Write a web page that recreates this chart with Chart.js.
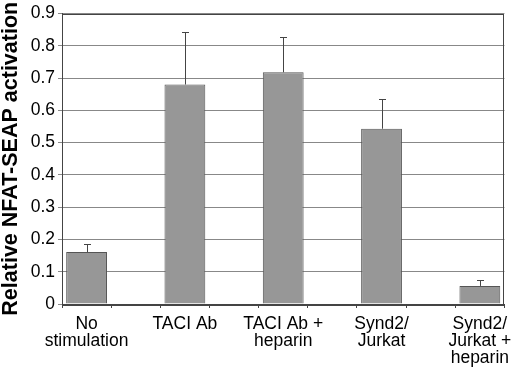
<!DOCTYPE html>
<html>
<head>
<meta charset="utf-8">
<script src="https://cdn.jsdelivr.net/npm/chart.js@4/dist/chart.umd.min.js"></script>
<style>
  body { margin: 0; background: #fff; }
  #wrap { width: 520px; height: 369px; }
</style>
</head>
<body>
<div id="wrap"><canvas id="chart" width="520" height="369"></canvas></div>
<script>
// values
const categories = [
  ['No', 'stimulation'],
  ['TACI Ab'],
  ['TACI Ab +', 'heparin'],
  ['Synd2/', 'Jurkat'],
  ['Synd2/', 'Jurkat +', 'heparin']
];
const means = [0.161, 0.680, 0.718, 0.543, 0.056];
const errors = [0.024, 0.162, 0.110, 0.093, 0.017];
const yTickLabels = ['0', '0.1', '0.2', '0.3', '0.4', '0.5', '0.6', '0.7', '0.8', '0.9'];
const yTitle = 'Relative NFAT-SEAP activation';

// the original axis has an empty slot between each pair of bars
const slotLabels = [];
const slotMeans = [];
const slotErrors = [];
categories.forEach((c, i) => {
  if (i > 0) { slotLabels.push(''); slotMeans.push(null); slotErrors.push(null); }
  slotLabels.push(c);
  slotMeans.push(means[i]);
  slotErrors.push(errors[i]);
});

const FONT = 'Liberation Sans, Arial, Helvetica, sans-serif';

const errorBars = {
  id: 'errorBars',
  afterDatasetsDraw(chart) {
    const { ctx, scales: { x, y } } = chart;
    ctx.save();
    ctx.strokeStyle = '#444';
    ctx.lineWidth = 1;
    slotMeans.forEach((m, i) => {
      if (m === null) return;
      const px = Math.round(x.getPixelForValue(i)) + 0.5;
      const y0 = y.getPixelForValue(m);
      const y1 = Math.round(y.getPixelForValue(m + slotErrors[i])) + 0.5;
      ctx.beginPath();
      ctx.moveTo(px, y0);
      ctx.lineTo(px, y1);
      ctx.moveTo(px - 3.5, y1);
      ctx.lineTo(px + 3.5, y1);
      ctx.stroke();
    });
    ctx.restore();
  }
};

const frame = {
  id: 'frame',
  afterDraw(chart) {
    const { ctx, chartArea: a } = chart;
    ctx.save();
    ctx.strokeStyle = '#444';
    ctx.lineWidth = 1;
    ctx.strokeRect(Math.round(a.left) + 0.5, Math.round(a.top) + 0.5,
      Math.round(a.right - a.left) - 1, Math.round(a.bottom - a.top));
    ctx.restore();
  }
};

new Chart(document.getElementById('chart').getContext('2d'), {
  type: 'bar',
  data: {
    labels: slotLabels,
    datasets: [{
      data: slotMeans,
      backgroundColor: '#979797',
      borderColor: '#555',
      borderWidth: 1,
      barPercentage: 0.83,
      categoryPercentage: 1
    }]
  },
  options: {
    responsive: false,
    animation: false,
    layout: { padding: { top: 10, right: 14, bottom: 0, left: 0 } },
    plugins: { legend: { display: false }, tooltip: { enabled: false } },
    scales: {
      x: {
        offset: true,
        afterFit(scale) { scale.height = 65; },
        grid: { display: true, drawOnChartArea: false, drawTicks: true, tickLength: 4, color: '#444', offset: true },
        border: { color: '#444' },
        ticks: {
          autoSkip: false, maxRotation: 0, minRotation: 0, padding: 8,
          color: '#000', font: { family: FONT, size: 17.5, lineHeight: 0.97 }
        }
      },
      y: {
        min: 0, max: 0.9,
        afterFit(scale) { scale.width = 62; },
        grid: { color: '#888', tickLength: 4, drawTicks: true },
        border: { color: '#444' },
        ticks: {
          stepSize: 0.1, padding: 3, color: '#000',
          font: { family: FONT, size: 17.5 },
          callback: (v, i) => yTickLabels[i]
        },
        title: {
          display: true, text: yTitle, color: '#000',
          font: { family: FONT, size: 21.5, weight: 'bold', lineHeight: 1.0 },
          padding: { top: 0, bottom: 0 }
        }
      }
    }
  },
  plugins: [errorBars, frame]
});
</script>
</body>
</html>
